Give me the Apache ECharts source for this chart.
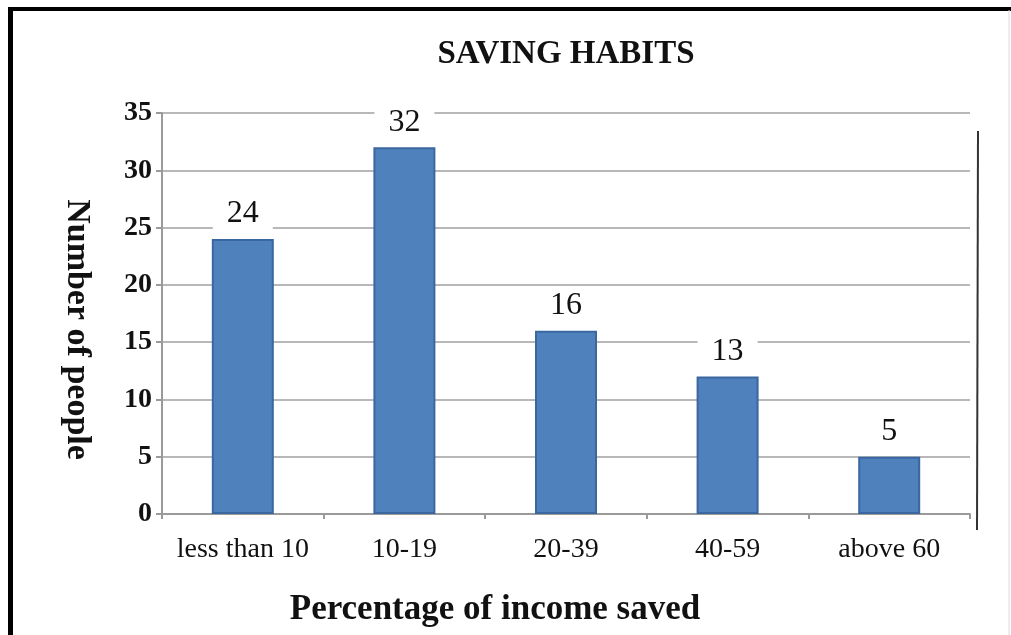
<!DOCTYPE html>
<html>
<head>
<meta charset="utf-8">
<script src="https://cdn.jsdelivr.net/npm/echarts@6/dist/echarts.min.js"></script>
<style>
html,body{margin:0;padding:0;background:#fff;}
#chart{width:1011px;height:635px;}
</style>
</head>
<body>
<div id="chart"></div>
<script>
const categories = ['less than 10', '10-19', '20-39', '40-59', 'above 60'];
const peopleCounts = [24, 32, 16, 12, 5];
const valueLabels = ['24', '32', '16', '13', '5'];
const yTicks = [0, 5, 10, 15, 20, 25, 30, 35];

const serif = '"Liberation Serif", "Times New Roman", serif';
const chart = echarts.init(document.getElementById('chart'));
chart.setOption({
  backgroundColor: '#fff',
  animation: false,
  title: {
    text: 'SAVING HABITS',
    left: 561, top: 33, textAlign: 'center',
    textStyle: { fontFamily: serif, fontWeight: 'bold', fontSize: 33, color: '#111' }
  },
  grid: { left: 162, right: 41, top: 113, bottom: 121 },
  xAxis: {
    type: 'category',
    data: categories,
    name: 'Percentage of income saved',
    nameLocation: 'middle',
    nameGap: 78,
    nameTextStyle: { fontFamily: serif, fontWeight: 'bold', fontSize: 35, color: '#111', padding: [0, 142, 0, 0] },
    axisLine: { lineStyle: { color: '#9a9a9a', width: 2 } },
    axisTick: { show: true, interval: 0, length: 5, lineStyle: { color: '#9a9a9a', width: 2 } },
    axisLabel: { interval: 0, fontFamily: serif, fontSize: 28, color: '#111', margin: 22 }
  },
  yAxis: {
    type: 'value',
    min: yTicks[0], max: yTicks[yTicks.length - 1], interval: 5,
    name: 'Number of people',
    nameLocation: 'middle',
    nameRotate: -90,
    nameGap: 68,
    nameTextStyle: { fontFamily: serif, fontWeight: 'bold', fontSize: 34, color: '#111', padding: [0, 0, 0, 32] },
    axisLine: { show: true, lineStyle: { color: '#9a9a9a', width: 2 } },
    axisTick: { show: true, length: 6, lineStyle: { color: '#9a9a9a', width: 2 } },
    axisLabel: { fontFamily: serif, fontWeight: 'bold', fontSize: 28, color: '#111', margin: 10 },
    splitLine: { lineStyle: { color: '#b8b8b8', width: 2 } }
  },
  series: [{
    type: 'bar',
    data: peopleCounts,
    barWidth: 62,
    itemStyle: { color: '#4F81BD', borderColor: '#3A67A0', borderWidth: 2 },
    label: {
      show: true, position: 'top', distance: 7,
      formatter: p => valueLabels[p.dataIndex],
      fontFamily: serif, fontSize: 32, color: '#111',
      backgroundColor: '#fff', padding: [2, 14, 2, 14]
    }
  }],
  graphic: [
    { type: 'rect', shape: { x: 8, y: 7, width: 5, height: 628 }, style: { fill: '#000' } },
    { type: 'rect', shape: { x: 8, y: 7, width: 1003, height: 4 }, style: { fill: '#000' } },
    { type: 'line', shape: { x1: 1009, y1: 10, x2: 1009, y2: 635 }, style: { stroke: '#ddd', lineWidth: 1 } },
    { type: 'line', shape: { x1: 978, y1: 131, x2: 977, y2: 530 }, style: { stroke: '#333', lineWidth: 2 } }
  ]
});
</script>
</body>
</html>
